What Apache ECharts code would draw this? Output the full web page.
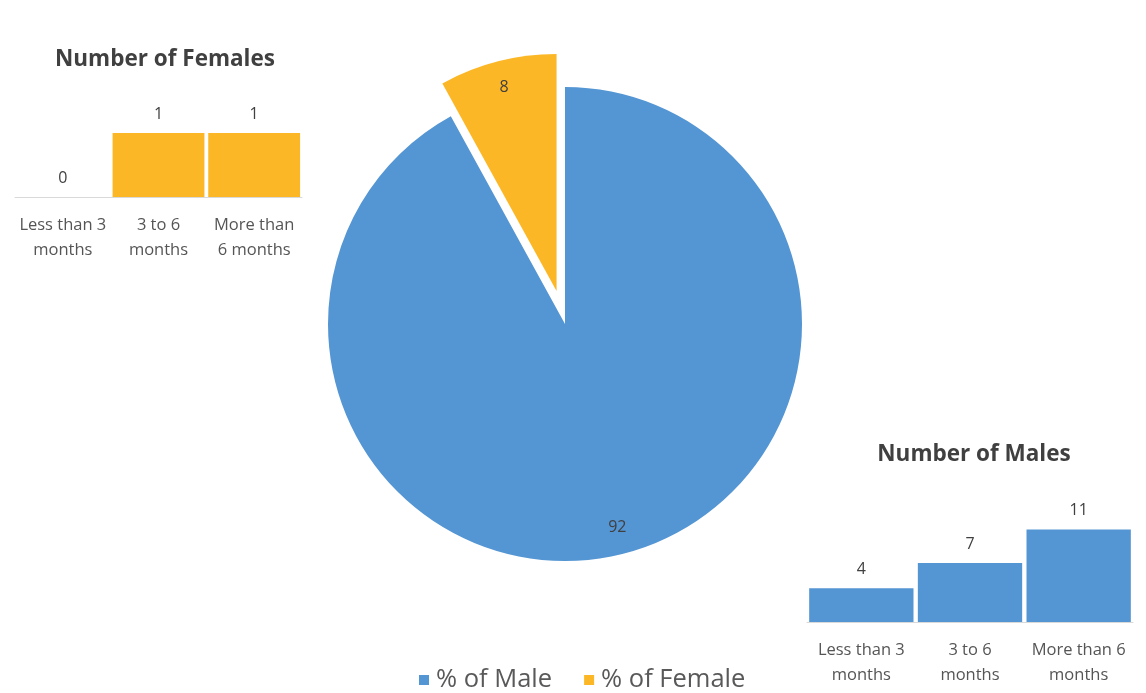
<!DOCTYPE html>
<html>
<head>
<meta charset="utf-8">
<script src="https://cdn.jsdelivr.net/npm/echarts@6/dist/echarts.min.js"></script>
<style>
  html, body { margin: 0; padding: 0; background: #ffffff; }
  #chart { width: 1146px; height: 693px; }
</style>
</head>
<body>
<div id="chart"></div>
<script>
// Share of respondents by sex (percent)
const pieNames = ['% of Male', '% of Female'];
const pieValues = [92, 8];

// Duration groups (line breaks differ per panel)
const femaleCategories = ['Less than 3\nmonths', '3 to 6\nmonths', 'More than\n6 months'];
const maleCategories = ['Less than 3\nmonths', '3 to 6\nmonths', 'More than 6\nmonths'];

// Counts per duration group
const femaleCounts = [0, 1, 1];
const maleCounts = [4, 7, 11];

const BLUE = '#5495d3';
const YELLOW = '#fbb726';
const FONT = '"Open Sans", "Noto Sans", sans-serif';

const chart = echarts.init(document.getElementById('chart'), null, { renderer: 'canvas' });

const pieData = pieNames.map((n, i) => ({
  name: n,
  value: pieValues[i],
  selected: n === '% of Female',
  itemStyle: { color: i === 0 ? BLUE : YELLOW }
}));

const labelRingData = pieNames.map((n, i) => ({
  name: n,
  value: pieValues[i],
  selected: n === '% of Female'
}));

function barAxes(categories, gridIndex) {
  return {
    type: 'category',
    gridIndex: gridIndex,
    data: categories,
    axisLine: { show: true, lineStyle: { color: '#d9d9d9', width: 1 } },
    axisTick: { show: false },
    axisLabel: {
      interval: 0,
      margin: 16,
      fontSize: 16.5,
      lineHeight: 25,
      color: '#555555',
      fontFamily: FONT
    }
  };
}

function valueAxis(gridIndex, max) {
  return {
    type: 'value',
    gridIndex: gridIndex,
    min: 0,
    max: max,
    show: false,
    splitLine: { show: false }
  };
}

function barSeries(values, gridIndex, color) {
  return {
    type: 'bar',
    xAxisIndex: gridIndex,
    yAxisIndex: gridIndex,
    data: values,
    barCategoryGap: '4%',
    itemStyle: { color: color },
    label: {
      show: true,
      position: 'top',
      distance: 11,
      fontSize: 16,
      color: '#404040',
      fontFamily: FONT
    },
    silent: true
  };
}

const option = {
  backgroundColor: '#ffffff',
  animation: false,
  title: [
    {
      text: 'Number of Females',
      left: 160, top: 43, textAlign: 'center',
      textStyle: { fontSize: 22.5, fontWeight: 'bold', color: '#404040', fontFamily: FONT }
    },
    {
      text: 'Number of Males',
      left: 969, top: 438, textAlign: 'center',
      textStyle: { fontSize: 22.5, fontWeight: 'bold', color: '#404040', fontFamily: FONT }
    }
  ],
  legend: {
    data: pieNames,
    left: 414,
    top: 662,
    icon: 'rect',
    itemWidth: 10,
    itemHeight: 10,
    itemGap: 32,
    selectedMode: false,
    textStyle: { fontSize: 25.5, color: '#595959', fontFamily: FONT, padding: [0, 0, 0, 2] }
  },
  grid: [
    { left: 15, width: 287, top: 133, height: 64 },
    { left: 807, width: 326, top: 521, height: 101 }
  ],
  xAxis: [barAxes(femaleCategories, 0), barAxes(maleCategories, 1)],
  yAxis: [valueAxis(0, 1), valueAxis(1, 12)],
  series: [
    barSeries(femaleCounts, 0, YELLOW),
    barSeries(maleCounts, 1, BLUE),
    {
      type: 'pie',
      name: 'share',
      center: [565, 324],
      radius: [0, 237],
      startAngle: 90,
      clockwise: true,
      selectedMode: 'single',
      selectedOffset: 34,
      data: pieData,
      label: { show: false },
      labelLine: { show: false },
      emphasis: { disabled: true },
      silent: true
    },
    {
      // transparent ring that carries the value labels near the rim
      type: 'pie',
      name: 'labels',
      center: [565, 324],
      radius: [178, 237],
      startAngle: 90,
      clockwise: true,
      selectedMode: 'single',
      selectedOffset: 34,
      data: labelRingData,
      itemStyle: { color: 'rgba(0,0,0,0)' },
      label: {
        show: true,
        position: 'inside',
        formatter: '{c}',
        fontSize: 16,
        color: '#404040',
        fontFamily: FONT
      },
      labelLine: { show: false },
      emphasis: { disabled: true },
      silent: true
    }
  ]
};

chart.setOption(option);
</script>
</body>
</html>
